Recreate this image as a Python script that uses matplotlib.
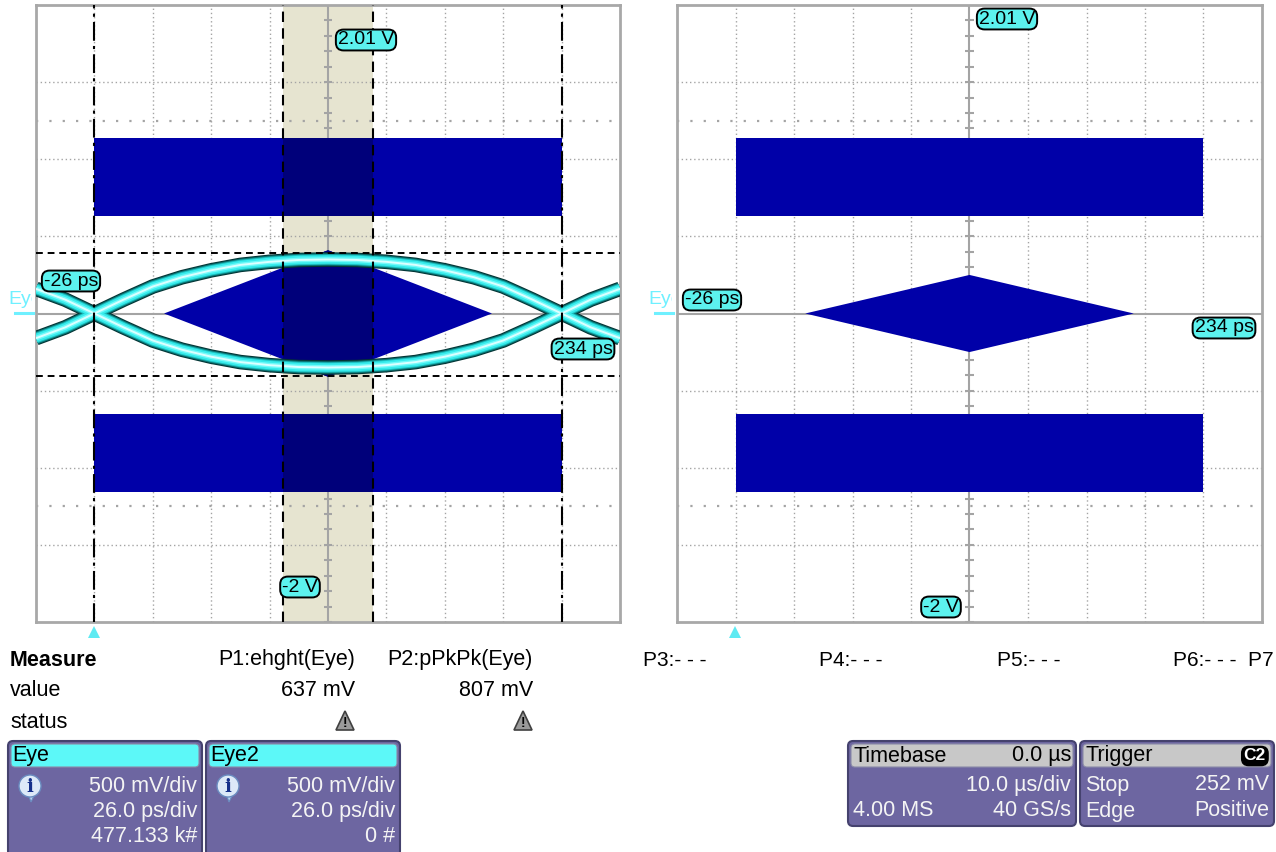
import numpy as np
import matplotlib
matplotlib.use("Agg")
import matplotlib.pyplot as plt
from matplotlib.patches import Rectangle, Polygon, FancyBboxPatch, Circle

plt.rcParams['font.family'] = ['Liberation Sans', 'DejaVu Sans']

# ---- scope scales -------------------------------------------------------
T_RANGE = (-26, 234)        # ps  (10 div x 26 ps/div)
V_RANGE = (-2.0, 2.0)       # V   (8 div x 500 mV/div)
T_DIV = 26
V_DIV = 0.5

# ---- cursors / measurement markers --------------------------------------
cursor_ps = [0, 208]
zoom_band_ps = [84, 124]
eye_levels_v = [0.39, -0.405]

# ---- mask regions -------------------------------------------------------
mask_span_ps = [0, 208]
mask_upper_v = [0.63, 1.135]
mask_lower_v = [-1.155, -0.65]
mask_tips_ps = [31, 104, 177]
mask_half_height_v = [0.41, 0.25]      # Eye panel, Eye2 panel

# ---- eye trace (upper branch; lower branch is its mirror) ----------------
eye_t_ps = [-26, -13, 0, 13, 26, 39, 52, 65, 78, 91, 104,
            117, 130, 143, 156, 169, 182, 195, 208, 221, 234]
eye_upper_v = [-0.16, -0.09, 0.0, 0.09, 0.175, 0.235, 0.28, 0.315, 0.335, 0.347, 0.35,
               0.347, 0.335, 0.315, 0.28, 0.235, 0.175, 0.09, 0.0, -0.09, -0.16]

# ---- readouts -----------------------------------------------------------
scale_labels = ["-26 ps", "234 ps", "2.01 V", "-2 V"]
measure_names = ["P1:ehght(Eye)", "P2:pPkPk(Eye)"]
measure_values = ["637 mV", "807 mV"]
empty_params = ["P3:- - -", "P4:- - -", "P5:- - -", "P6:- - -  P7"]
channel_names = ["Eye", "Eye2"]
channel_rows = [["500 mV/div", "26.0 ps/div", "477.133 k#"],
                ["500 mV/div", "26.0 ps/div", "0 #"]]
timebase_rows = [("Timebase", "0.0 µs"), ("", "10.0 µs/div"), ("4.00 MS", "40 GS/s")]
trigger_rows = [("Trigger", "C2"), ("Stop", "252 mV"), ("Edge", "Positive")]

# ---- colours ------------------------------------------------------------
BLUE = '#0000a8'
NAVY = '#00007a'
BEIGE = '#e6e4d0'
GRID = '#a4a4a4'
CYAN = '#5cf2ee'
PURPLE = '#6d66a1'
HEAD_CYAN = '#5cf8f8'
HEAD_GREY = '#c8c8c8'

W, H = 1276, 852
fig = plt.figure(figsize=(W / 100, H / 100), dpi=100)
fig.patch.set_facecolor('white')


def px_axes(x0, y0, x1, y1):
    return fig.add_axes([x0 / W, 1 - y1 / H, (x1 - x0) / W, (y1 - y0) / H])


def draw_panel(ax, half_h, zoomed):
    ax.set_xlim(*T_RANGE)
    ax.set_ylim(*V_RANGE)
    ax.set_xticks([])
    ax.set_yticks([])
    for s in ax.spines.values():
        s.set_color('#a8a8a8')
        s.set_linewidth(2)
    xc = (T_RANGE[0] + T_RANGE[1]) / 2

    if zoomed:
        ax.axvspan(zoom_band_ps[0], zoom_band_ps[1], color=BEIGE, zorder=0.5, lw=0)

    # graticule
    n_t = int(round((T_RANGE[1] - T_RANGE[0]) / T_DIV))
    for k in range(1, n_t):
        if k != n_t // 2:
            ax.axvline(T_RANGE[0] + k * T_DIV, color=GRID, lw=1, ls=(0, (1, 2)), zorder=1)
    n_v = int(round((V_RANGE[1] - V_RANGE[0]) / V_DIV))
    for k in range(1, n_v):
        if k != n_v // 2:
            ax.axhline(V_RANGE[0] + k * V_DIV, color=GRID, lw=1, ls=(0, (1, 2)), zorder=1)
    for v in (-2.5 * V_DIV, 2.5 * V_DIV):
        ax.axhline(v, color=GRID, lw=1.6, ls=(0, (1, 5)), zorder=1)
    ax.axvline(xc, color=GRID, lw=1.5, zorder=1)
    ax.axhline(0, color=GRID, lw=1.5, zorder=1)
    tick_v = np.arange(V_RANGE[0], V_RANGE[1] + 1e-9, V_DIV / 5)
    ax.hlines(tick_v, xc - 1.8, xc + 1.8, color=GRID, lw=1.5, zorder=1)

    # mask shapes
    def mask_patches(color, z):
        return [
            Rectangle((mask_span_ps[0], mask_upper_v[0]), mask_span_ps[1] - mask_span_ps[0],
                      mask_upper_v[1] - mask_upper_v[0], color=color, lw=0, zorder=z),
            Rectangle((mask_span_ps[0], mask_lower_v[0]), mask_span_ps[1] - mask_span_ps[0],
                      mask_lower_v[1] - mask_lower_v[0], color=color, lw=0, zorder=z),
            Polygon([(mask_tips_ps[0], 0), (mask_tips_ps[1], half_h),
                     (mask_tips_ps[2], 0), (mask_tips_ps[1], -half_h)],
                    closed=True, color=color, lw=0, zorder=z),
        ]

    for p in mask_patches(BLUE, 2):
        ax.add_patch(p)
    if zoomed:
        clip = Rectangle((zoom_band_ps[0], V_RANGE[0]), zoom_band_ps[1] - zoom_band_ps[0],
                         V_RANGE[1] - V_RANGE[0], transform=ax.transData)
        for p in mask_patches(NAVY, 2.1):
            ax.add_patch(p)
            p.set_clip_path(clip)


ax1 = px_axes(36, 5, 620, 622)
draw_panel(ax1, mask_half_height_v[0], True)
ax2 = px_axes(677, 5, 1262, 622)
draw_panel(ax2, mask_half_height_v[1], False)

# eye trace with glow layers
t = np.array(eye_t_ps)
vu = np.array(eye_upper_v)
for lw, col in [(10.5, '#033434'), (9.0, '#0a7070'), (7.5, '#1cc0c0'),
                (6.0, '#38ecec'), (3.4, '#74fafa'), (1.4, '#dcffff')]:
    for v in (vu, -vu):
        ax1.plot(t, v, color=col, lw=lw, zorder=3, solid_joinstyle='round',
                 solid_capstyle='butt')

# cursors and measurement lines
for c in cursor_ps:
    ax1.axvline(c, color='black', lw=1.5, ls=(0, (9, 2.5, 1.5, 2.5)), zorder=4)
for z in zoom_band_ps:
    ax1.axvline(z, color='black', lw=1.5, ls=(0, (5, 3)), zorder=4)
for lv in eye_levels_v:
    ax1.axhline(lv, color='black', lw=1.4, ls=(0, (3.5, 2.5)), zorder=4)

# ---- overlay in pixel coordinates ---------------------------------------
ov = fig.add_axes([0, 0, 1, 1], zorder=10)
ov.set_xlim(0, W)
ov.set_ylim(H, 0)
ov.axis('off')


def tag(x, y, s):
    ov.text(x, y, s, ha='center', va='center', fontsize=14, color='black',
            bbox=dict(boxstyle='round,pad=0.1,rounding_size=0.4', fc=CYAN,
                      ec='black', lw=1.4))


tag(71, 281, scale_labels[0]); tag(583, 349, scale_labels[1])
tag(366, 40, scale_labels[2]); tag(300, 587, scale_labels[3])
tag(712, 300, scale_labels[0]); tag(1224, 328, scale_labels[1])
tag(1007, 19, scale_labels[2]); tag(941, 607, scale_labels[3])

# trace name markers at the left of each grid (name cut off by the grid edge)
for x0 in (8, 648):
    txt = ov.text(x0, 299, channel_names[0], ha='left', va='center',
                  fontsize=14, color='#6ff0ff', clip_on=True)
    txt.set_clip_path(Rectangle((0, 280), x0 + 24, 40, transform=ov.transData))
    ov.plot([x0 + 7, x0 + 25], [313, 313], color='#6ff0ff', lw=2.2)

# trigger position markers
for x0 in (94, 735):
    ov.add_patch(Polygon([(x0 - 6, 638), (x0 + 6, 638), (x0, 626)], closed=True,
                         color='#5eeaf2', lw=0))

# measurement table
FS = 15.5
ov.text(10, 660, "Measure", fontsize=FS, fontweight='bold', va='center', ha='left')
ov.text(10, 691, "value", fontsize=FS, va='center', ha='left')
ov.text(10, 722, "status", fontsize=FS, va='center', ha='left')
for xr, name, val in zip((355, 533), measure_names, measure_values):
    ov.text(xr, 660, name, fontsize=FS, va='center', ha='right')
    ov.text(xr, 691, val, fontsize=FS, va='center', ha='right')
    xc = xr - 10
    ov.add_patch(Polygon([(xc - 9, 730), (xc + 9, 730), (xc, 711)], closed=True,
                         fc='#9a9a9a', ec='#404040', lw=1.2))
    ov.text(xc, 723, "!", fontsize=10, fontweight='bold', ha='center', va='center',
            color='black')
for xl, s in zip((643, 819, 997, 1173), empty_params):
    ov.text(xl, 660, s, fontsize=15, va='center', ha='left')


def panel_box(x0, y0, x1, y1, head_color):
    ov.add_patch(FancyBboxPatch((x0, y0), x1 - x0, y1 - y0,
                                boxstyle='round,pad=0,rounding_size=5',
                                fc=PURPLE, ec='#45426e', lw=1.5))
    ov.add_patch(FancyBboxPatch((x0 + 3, y0 + 3), x1 - x0 - 6, 23,
                                boxstyle='round,pad=0,rounding_size=4',
                                fc=head_color, ec='#8a8aa8', lw=0.8))


def info_icon(x, y):
    ov.add_patch(Polygon([(x - 2, y + 8), (x + 5, y + 8), (x + 1, y + 16)], closed=True,
                         fc='#bcd4f0', ec='#6a8cc0', lw=0.8))
    ov.add_patch(Circle((x, y), 11, fc='#dde9f8', ec='#6a8cc0', lw=1))
    ov.text(x, y + 1, "i", fontsize=13, fontweight='bold', color='#16308a',
            ha='center', va='center', family='DejaVu Serif')


BOX_FS = 15.5
for (x0, x1), name, rows in zip(((8, 202), (206, 400)), channel_names, channel_rows):
    panel_box(x0, 741, x1, 856, HEAD_CYAN)
    ov.text(x0 + 4, 756, name, fontsize=BOX_FS, va='center', ha='left', color='black')
    info_icon(x0 + 22, 786)
    for y, s in zip((786, 811, 836), rows):
        ov.text(x1 - 5, y, s, fontsize=BOX_FS, va='center', ha='right', color='#f4f4f4')

panel_box(848, 741, 1076, 826, HEAD_GREY)
panel_box(1080, 741, 1274, 826, HEAD_GREY)
for (x0, x1), rows in zip(((848, 1076), (1080, 1274)), (timebase_rows, trigger_rows)):
    for i, ((left, right), y) in enumerate(zip(rows, (756, 785, 811))):
        col = 'black' if i == 0 else '#f4f4f4'
        if left:
            ov.text(x0 + 5, y, left, fontsize=BOX_FS, va='center', ha='left', color=col)
        if i == 0 and right == "C2":
            ov.text(x1 - 8, y, right, fontsize=12.5, fontweight='bold', va='center',
                    ha='right', color='white',
                    bbox=dict(boxstyle='round,pad=0.12,rounding_size=0.4', fc='black',
                              ec='black'))
        else:
            ov.text(x1 - 5, y, right, fontsize=BOX_FS, va='center', ha='right', color=col)

fig.savefig('out.png', dpi=100, facecolor='white')
